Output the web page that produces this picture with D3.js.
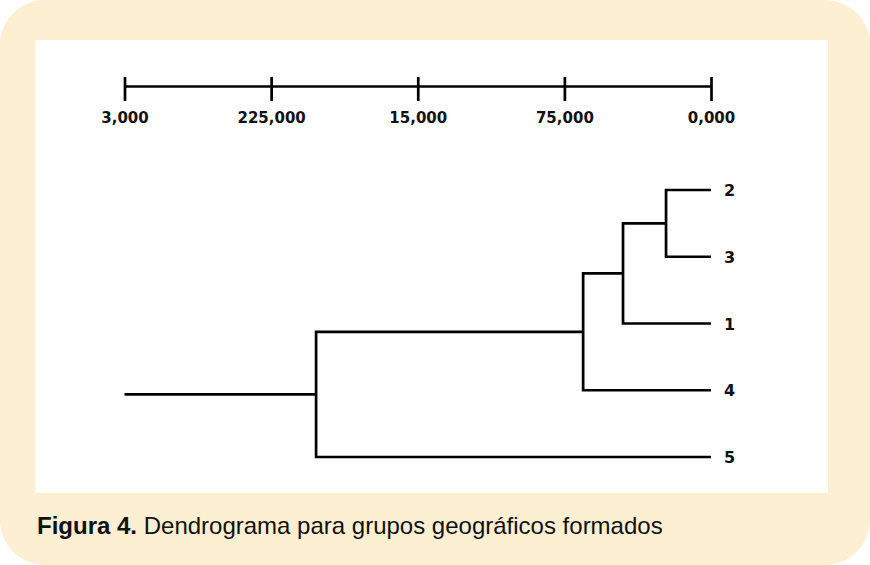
<!DOCTYPE html>
<html>
    <head>
        <meta charset="UTF-8"/>
        <style>
            body { margin: 0; background: #fff; }
        </style>
    </head>
    <body>
        <svg width="870" height="565"></svg>
        <script src="https://d3js.org/d3.v7.min.js" type="text/javascript"></script>
        <script>
            // distance scale (labels as printed in the figure)
            let tickValues = [300, 225, 150, 75, 0];
            let tickLabels = ["3,000", "225,000", "15,000", "75,000", "0,000"];

            // leaves from top to bottom
            let leaves = ["2", "3", "1", "4", "5"];
            // agglomeration steps: the two joined members and the joining distance
            let mergePairs = [["2", "3"], ["c1", "1"], ["c2", "4"], ["c3", "5"]];
            let mergeHeights = [23, 45, 65.4, 202];
            let rootHeight = 300;

            let svg = d3.select("svg"),
                width = +svg.attr("width"),
                height = +svg.attr("height");

            // frame
            svg.append("rect")
                .attr("width", width).attr("height", height)
                .attr("rx", 45).attr("ry", 45)
                .attr("fill", "#fdefd1");
            svg.append("rect")
                .attr("x", 35).attr("y", 40)
                .attr("width", 793).attr("height", 453)
                .attr("fill", "#fff");

            let x = d3.scaleLinear().domain([300, 0]).range([124.5, 711]);
            let y = d3.scalePoint().domain(leaves).range([190, 457]);

            // axis
            let axis = d3.axisBottom(x)
                .tickValues(tickValues)
                .tickFormat((d, i) => tickLabels[i])
                .tickSizeOuter(0)
                .tickSizeInner(16);
            let ag = svg.append("g")
                .attr("transform", "translate(0,86)")
                .call(axis);
            ag.select(".domain").attr("stroke", "#000").attr("stroke-width", 2.7);
            ag.selectAll(".tick line")
                .attr("y1", -9).attr("y2", 15)
                .attr("stroke", "#000").attr("stroke-width", 2.7);
            ag.selectAll(".tick text")
                .attr("y", 26).attr("dy", "0.71em")
                .attr("fill", "#111")
                .style("font-family", "DejaVu Sans")
                .style("font-weight", "bold")
                .style("font-size", "15px");

            // node positions
            let pos = {};
            leaves.forEach(l => pos[l] = {x: x(0), y: y(l)});
            let links = [];
            mergePairs.forEach((p, i) => {
                let hx = x(mergeHeights[i]);
                let a = pos[p[0]], b = pos[p[1]];
                links.push([[a.x, a.y], [hx, a.y], [hx, b.y], [b.x, b.y]]);
                pos["c" + (i + 1)] = {x: hx, y: (a.y + b.y) / 2};
            });
            let last = pos["c" + mergePairs.length];
            links.push([[last.x, last.y], [x(rootHeight), last.y]]);

            let line = d3.line();
            svg.append("g")
                .selectAll("path")
                .data(links)
                .enter()
                .append("path")
                .attr("d", line)
                .attr("fill", "none")
                .attr("stroke", "#000")
                .attr("stroke-width", 2.7);

            svg.append("g")
                .selectAll("text")
                .data(leaves)
                .enter()
                .append("text")
                .attr("x", x(0) + 13)
                .attr("y", d => y(d))
                .attr("dy", "0.38em")
                .attr("fill", "#111")
                .style("font-family", "DejaVu Sans")
                .style("font-weight", "bold")
                .style("font-size", "16px")
                .text(d => d);

            // caption
            let cap = svg.append("text")
                .attr("x", 37).attr("y", 534)
                .style("font-family", "Liberation Sans")
                .style("font-size", "24px")
                .attr("fill", "#111");
            cap.append("tspan").style("font-weight", "bold").text("Figura 4.");
            cap.append("tspan").text(" Dendrograma para grupos geográficos formados");
        </script>
    </body>
</html>
